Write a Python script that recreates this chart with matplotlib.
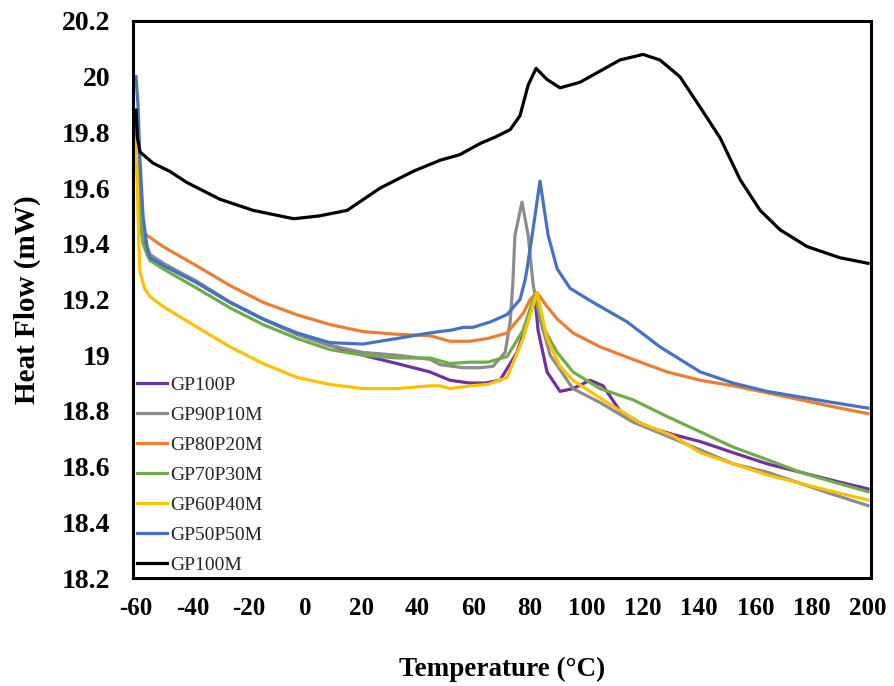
import matplotlib
matplotlib.use("Agg")
import matplotlib.pyplot as plt

# ---------------- data ----------------
black_x = [-60, -59.5, -58.6, -54, -48, -41.9, -30.2, -18.4, -8.8, -4, 5, 15, 26.7, 38.4, 48, 55,
           62.2, 68, 72.9, 76.4, 79.3, 82.1, 86, 90.6, 97.7, 104.8, 111.9, 120.1, 126.1, 133.2,
           140.4, 147.5, 154.6, 161.7, 168.8, 178.4, 190, 200]
black_y = [19.88, 19.78, 19.73, 19.69, 19.66, 19.62, 19.56, 19.52, 19.50, 19.49, 19.50, 19.52,
           19.60, 19.66, 19.70, 19.72, 19.76, 19.785, 19.81, 19.86, 19.97, 20.03, 19.99, 19.96,
           19.98, 20.02, 20.06, 20.08, 20.06, 20.0, 19.89, 19.78, 19.63, 19.52, 19.45, 19.39,
           19.35, 19.33]

blue_x = [-60, -59.3, -58.6, -57.5, -56, -55, -50, -38.3, -26.6, -14.9, -2.8, 8.9, 20.6, 32.7,
          44.4, 48, 52, 56.2, 59.7, 66, 71.8, 76.4, 78.2, 78.9, 80.7, 83.5, 86.4, 89.6, 94.2,
          102.3, 114.4, 126.1, 140.4, 152.1, 164.2, 175.9, 187.6, 200]
blue_y = [20.0, 19.9, 19.7, 19.5, 19.38, 19.35, 19.32, 19.26, 19.19, 19.13, 19.08, 19.045, 19.04,
          19.06, 19.08, 19.085, 19.09, 19.10, 19.10, 19.12, 19.146, 19.2, 19.27, 19.31, 19.43,
          19.625, 19.43, 19.31, 19.24, 19.19, 19.12, 19.03, 18.94, 18.90, 18.87, 18.85, 18.83,
          18.81]

orange_x = [-60, -59.3, -58.6, -57.5, -50.4, -38.3, -26.6, -14.9, -2.8, 8.9, 20.6, 32.7, 44.4,
            48, 51.5, 58.6, 65, 71.8, 77.5, 80, 82.4, 86, 89.6, 95.2, 104.8, 116.5, 128.6,
            140.4, 152.1, 164.2, 175.9, 187.6, 200]
orange_y = [19.8, 19.65, 19.47, 19.44, 19.39, 19.32, 19.25, 19.19, 19.145, 19.11, 19.085, 19.075,
            19.07, 19.06, 19.05, 19.05, 19.06, 19.08, 19.15, 19.20, 19.225, 19.175, 19.13, 19.08,
            19.03, 18.985, 18.94, 18.91, 18.89, 18.865, 18.84, 18.815, 18.79]

gray_x = [-60, -59.3, -58.6, -57.5, -56, -55, -50.4, -38.3, -26.6, -14.9, -2.8, 8.9, 20.6, 32.7,
          44.4, 48, 56.2, 62, 66.8, 71.1, 72.9, 73.8, 74.6, 77.1, 79.3, 81.1, 83.5, 87.1, 95.2,
          104.8, 116.5, 128.6, 140.4, 152.1, 164.2, 175.9, 187.6, 200]
gray_y = [19.85, 19.7, 19.55, 19.45, 19.39, 19.36, 19.33, 19.265, 19.19, 19.13, 19.075, 19.035,
          19.01, 19.0, 18.985, 18.966, 18.955, 18.955, 18.96, 19.01, 19.12, 19.25, 19.43, 19.55,
          19.43, 19.25, 19.13, 19.0, 18.88, 18.83, 18.76, 18.71, 18.66, 18.61, 18.58, 18.54,
          18.50, 18.46]

green_x = [-60, -59.3, -58.6, -57.5, -56, -55, -50.4, -38.3, -26.6, -14.9, -2.8, 8.9, 20.6, 32.7,
           44.4, 48, 51.5, 58.6, 65, 71.8, 77.5, 81.7, 84.6, 89.6, 95.2, 104.8, 116.5, 128.6,
           140.4, 152.1, 164.2, 175.9, 187.6, 200]
green_y = [19.78, 19.6, 19.48, 19.4, 19.36, 19.34, 19.31, 19.24, 19.17, 19.11, 19.06, 19.02, 19.0,
           18.99, 18.99, 18.98, 18.97, 18.975, 18.975, 18.995, 19.09, 19.22, 19.10, 19.01, 18.94,
           18.88, 18.84, 18.78, 18.725, 18.67, 18.625, 18.58, 18.545, 18.51]

purple_x = [-60, -59.3, -58.6, -57.5, -56, -55, -50.4, -38.3, -26.6, -14.9, -2.8, 8.9, 20.6, 32.7,
            44.4, 51.5, 58.6, 64, 69.3, 75.3, 79, 81.7, 82.8, 86, 90.6, 95.2, 101.3, 105.9,
            111.9, 119, 122.6, 130.8, 140.4, 152.1, 164.2, 175.9, 187.6, 200]
purple_y = [19.82, 19.65, 19.5, 19.42, 19.38, 19.36, 19.33, 19.26, 19.19, 19.13, 19.075, 19.035,
            19.0, 18.97, 18.94, 18.91, 18.90, 18.90, 18.91, 19.01, 19.12, 19.21, 19.09, 18.94,
            18.87, 18.88, 18.91, 18.89, 18.80, 18.757, 18.74, 18.715, 18.69, 18.65, 18.61, 18.58,
            18.55, 18.52]

yellow_x = [-60, -59.5, -59, -58.6, -57, -55, -50.4, -38.3, -26.6, -14.9, -2.8, 8.9, 20.6, 32.7,
            44.4, 48, 51.5, 58.6, 65, 71.8, 77.5, 82.4, 86, 90.6, 95.2, 107.3, 119, 130.8, 140.4,
            152.1, 164.2, 175.9, 187.6, 200]
yellow_y = [19.78, 19.6, 19.4, 19.30, 19.24, 19.21, 19.175, 19.10, 19.03, 18.97, 18.92, 18.895,
            18.88, 18.88, 18.89, 18.89, 18.88, 18.89, 18.895, 18.92, 19.06, 19.225, 19.06, 18.96,
            18.91, 18.83, 18.757, 18.71, 18.65, 18.61, 18.57, 18.54, 18.51, 18.48]

labels = ["GP100P", "GP90P10M", "GP80P20M", "GP70P30M", "GP60P40M", "GP50P50M", "GP100M"]
x_ticks = [-60, -40, -20, 0, 20, 40, 60, 80, 100, 120, 140, 160, 180, 200]
y_ticks = [18.2, 18.4, 18.6, 18.8, 19.0, 19.2, 19.4, 19.6, 19.8, 20.0, 20.2]
y_tick_labels = ["18.2", "18.4", "18.6", "18.8", "19", "19.2", "19.4", "19.6", "19.8", "20", "20.2"]

# ---------------- plot ----------------
plt.rcParams['font.family'] = ['Liberation Serif', 'DejaVu Serif']

fig = plt.figure(figsize=(8.94, 6.86), dpi=100)
ax = fig.add_axes([133/894, 1 - 578/686, (871-133)/894, (578-21)/686])

series = [
    (purple_x, purple_y, "#7030A0"),
    (gray_x, gray_y, "#8C8C8C"),
    (orange_x, orange_y, "#ED7D31"),
    (green_x, green_y, "#70AD47"),
    (yellow_x, yellow_y, "#FFC000"),
    (blue_x, blue_y, "#4472C4"),
    (black_x, black_y, "#000000"),
]
for (xs, ys, c), lab in zip(series, labels):
    ax.plot(xs, ys, color=c, lw=2.3, label=lab, solid_joinstyle='round')

ax.set_xlim(-61.07, 201.07)
ax.set_ylim(18.2, 20.2)
ax.set_xticks(x_ticks)
ax.set_xticklabels([str(t) for t in x_ticks])
ax.set_yticks(y_ticks)
ax.set_yticklabels(y_tick_labels)
ax.tick_params(length=0)
ax.tick_params(axis='x', pad=14, labelsize=18)
ax.tick_params(axis='y', pad=16.5, labelsize=20)
for lab in ax.get_xticklabels() + ax.get_yticklabels():
    lab.set_fontweight('bold')
for s in ax.spines.values():
    s.set_linewidth(2.2)
    s.set_color('black')

ax.set_xlabel("Temperature (°C)", fontsize=19.5, fontweight='bold', labelpad=26)
ax.set_ylabel("Heat Flow (mW)", fontsize=21, fontweight='bold', labelpad=15)

leg = ax.legend(loc='lower left', bbox_to_anchor=(0.0, 0.0), frameon=False,
                fontsize=14, handlelength=1.55, handletextpad=0.15,
                labelspacing=0.64, borderaxespad=0.1, borderpad=0.1)
for t in leg.get_texts():
    t.set_color('#262626')

fig.savefig("out.png", dpi=100)
